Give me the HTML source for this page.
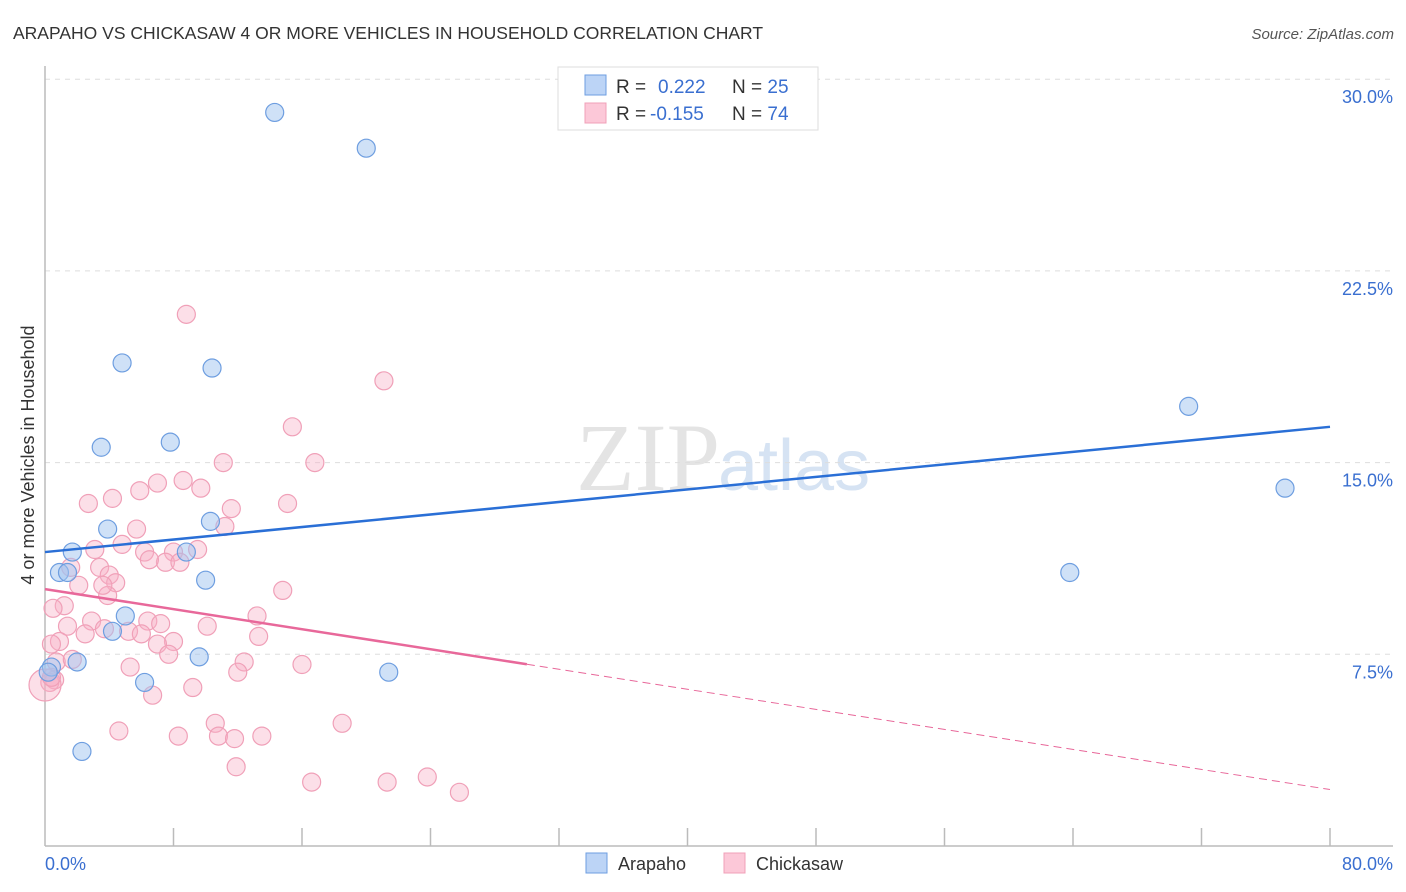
<!DOCTYPE html>
<html><head><meta charset="utf-8"><style>
body{margin:0;background:#fff;font-family:"Liberation Sans",sans-serif;}
svg{display:block}
</style></head><body>
<svg id="chart" width="1406" height="892">
<text x="13" y="39" font-size="17.5" fill="#333">ARAPAHO VS CHICKASAW 4 OR MORE VEHICLES IN HOUSEHOLD CORRELATION CHART</text>
<text x="1394" y="39" font-size="15" fill="#555" font-style="italic" text-anchor="end">Source: ZipAtlas.com</text>
<text x="720" y="490" font-size="96" fill="#e4e4e4" font-family="Liberation Serif,serif" text-anchor="end">ZIP</text>
<text x="718" y="490" font-size="72" fill="#d6e3f3" text-anchor="start">atlas</text>
<g id="grid"></g>
<line x1="45" y1="66" x2="45" y2="846" stroke="#bbb" stroke-width="1.5"/>
<line x1="45" y1="846" x2="1393" y2="846" stroke="#bbb" stroke-width="1.5"/>
<g id="xticks"></g>
<text transform="translate(34,455) rotate(-90)" font-size="18" fill="#333" text-anchor="middle">4 or more Vehicles in Household</text>
<text x="45" y="870" font-size="18" fill="#3a6fd0">0.0%</text>
<text x="1393" y="870" font-size="18" fill="#3a6fd0" text-anchor="end">80.0%</text>
<g id="pts"></g>
<g id="lines"></g>
<g>
<rect x="558" y="67" width="260" height="63" fill="#fff" stroke="#ddd"/>
<rect x="585" y="75" width="21" height="20" fill="#bcd4f6" stroke="#6e9ee0"/>
<rect x="585" y="103" width="21" height="20" fill="#fcc8d8" stroke="#f0a0b8"/>
<text x="616" y="93" font-size="19" fill="#333">R = <tspan fill="#3a6fd0" x="658">0.222</tspan><tspan x="732" fill="#333">N = </tspan><tspan fill="#3a6fd0">25</tspan></text>
<text x="616" y="120" font-size="19" fill="#333">R = <tspan fill="#3a6fd0" x="650">-0.155</tspan><tspan x="732" fill="#333">N = </tspan><tspan fill="#3a6fd0">74</tspan></text>
</g>
<g>
<rect x="586" y="853" width="21" height="20" fill="#bcd4f6" stroke="#6e9ee0"/>
<text x="618" y="870" font-size="18" fill="#333">Arapaho</text></g>
<g>
<rect x="724" y="853" width="21" height="20" fill="#fcc8d8" stroke="#f0a0b8"/>
<text x="756" y="870" font-size="18" fill="#333">Chickasaw</text></g>
</svg>
<script>
const yTicks=[7.5,15,22.5,30];
const yTickLabels=["7.5%","15.0%","22.5%","30.0%"];
const arapahoX=[14.3,20.0,4.8,10.4,3.5,7.8,3.9,10.3,1.7,8.8,0.9,1.4,10.0,5.0,4.2,9.6,2.0,0.4,0.2,6.2,21.4,2.3,71.2,77.2,63.8];
const arapahoY=[28.7,27.3,18.9,18.7,15.6,15.8,12.4,12.7,11.5,11.5,10.7,10.7,10.4,9.0,8.4,7.4,7.2,7.0,6.8,6.4,6.8,3.7,17.2,14.0,10.7];
const chickX=[8.8,21.1,15.4,16.8,11.1,8.6,7.0,9.7,5.9,4.2,2.7,15.1,11.6,5.7,11.2,3.1,4.8,6.2,8.0,9.5,7.5,8.4,3.4,1.6,4.0,2.1,4.4,14.8,3.9,1.2,0.5,13.2,6.4,7.2,2.9,1.4,10.1,2.5,3.7,5.2,6.0,8.0,13.3,0.9,0.4,7.0,7.7,16.0,5.3,12.4,12.0,0.7,1.7,0.6,0.3,9.2,6.7,10.6,18.5,4.6,8.3,10.8,11.8,13.5,11.9,16.6,21.3,23.8,25.8,0.0,3.6,6.5,0.4];
const chickY=[20.8,18.2,16.4,15.0,15.0,14.3,14.2,14.0,13.9,13.6,13.4,13.4,13.2,12.4,12.5,11.6,11.8,11.5,11.5,11.6,11.1,11.1,10.9,10.9,10.6,10.2,10.3,10.0,9.8,9.4,9.3,9.0,8.8,8.7,8.8,8.6,8.6,8.3,8.5,8.4,8.3,8.0,8.2,8.0,7.9,7.9,7.5,7.1,7.0,7.2,6.8,7.2,7.3,6.5,6.4,6.2,5.9,4.8,4.8,4.5,4.3,4.3,4.2,4.3,3.1,2.5,2.5,2.7,2.1,6.3,10.2,11.2,6.6];
const x=v=>45+v*16.0625, y=v=>846-v*25.56;
const NS="http://www.w3.org/2000/svg";
function mk(t,a,p){const e=document.createElementNS(NS,t);for(const k in a)e.setAttribute(k,a[k]);p.appendChild(e);return e;}
const grid=document.getElementById('grid');
yTicks.forEach((t,i)=>{
 const l=mk('line',{x1:45,x2:1393,y1:y(t),y2:y(t),stroke:'#ddd','stroke-dasharray':'5,5'},grid);
 
 
 const tx=mk('text',{x:1393,y:y(t)+24,'font-size':18,fill:'#3a6fd0','text-anchor':'end'},grid);
 tx.textContent=yTickLabels[i];
 
 
});
const xt=document.getElementById('xticks');
for(let i=1;i<=10;i++){const l=mk('line',{x1:x(i*8),x2:x(i*8),y1:828,y2:846,stroke:'#bbb','stroke-width':1.5},xt);
 
 }
const pts=document.getElementById('pts');
chickX.forEach((v,i)=>{const c=mk('circle',{cx:x(v),cy:y(chickY[i]),r:i==69?16:9,fill:'rgba(248,175,198,0.4)',stroke:'#f0a0b8','stroke-width':1.2},pts);
 
 });
arapahoX.forEach((v,i)=>{const c=mk('circle',{cx:x(v),cy:y(arapahoY[i]),r:9,fill:'rgba(160,195,240,0.5)',stroke:'#6e9ee0','stroke-width':1.2},pts);
 
 });
const ln=document.getElementById('lines');
const bl=mk('line',{x1:x(0),y1:y(11.5),x2:x(80),y2:y(16.4),stroke:'#2a6fd6','stroke-width':2.5},ln);


const pA=10.05,pB=-0.098;
const ps=mk('line',{x1:x(0),y1:y(pA),x2:x(30),y2:y(pA+pB*30),stroke:'#e8689a','stroke-width':2.5},ln);


const pd=mk('line',{x1:x(30),y1:y(pA+pB*30),x2:x(80),y2:y(pA+pB*80),stroke:'#e8689a','stroke-width':1,'stroke-dasharray':'8,5'},ln);


</script>
</body></html>
